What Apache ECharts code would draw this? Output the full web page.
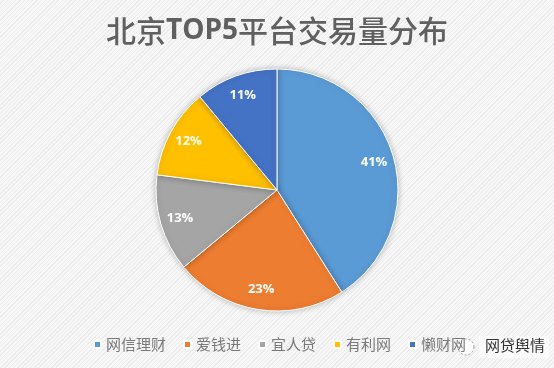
<!DOCTYPE html>
<html>
<head>
<meta charset="utf-8">
<script src="https://cdn.jsdelivr.net/npm/echarts@6/dist/echarts.min.js"></script>
<style>
html,body{margin:0;padding:0;}
body{width:554px;height:368px;background:#f4f4f4;
background-image:repeating-linear-gradient(135deg,#f7f7f7 0px,#f7f7f7 2px,#ececec 2px,#ececec 3px);}
#c{width:554px;height:368px;}
</style>
</head>
<body>
<div id="c"></div>
<script>
var titleParts = ['北京', 'TOP5', '平台交易量分布'];
var categories = ['网信理财', '爱钱进', '宜人贷', '有利网', '懒财网'];
var values = [41, 23, 13, 12, 11];
var colors = ['#5B9BD5', '#ED7D31', '#A5A5A5', '#FFC000', '#4472C4'];

var data = categories.map(function (c, i) { return { name: c, value: values[i] }; });
var chart = echarts.init(document.getElementById('c'));
chart.setOption({
  backgroundColor: 'transparent',
  color: colors,
  title: {
    text: '{a|' + titleParts[0] + '}{b|' + titleParts[1] + '}{a|' + titleParts[2] + '}',
    left: 'center', top: 11,
    textStyle: {
      rich: {
        a: { fontFamily: 'Noto Sans CJK SC', fontSize: 30, fontWeight: 500, color: '#606060' },
        b: { fontFamily: 'Open Sans', fontSize: 28, fontWeight: 'bold', color: '#606060' }
      }
    }
  },
  legend: {
    bottom: 11, left: 88, itemWidth: 7, itemHeight: 7, itemGap: 17, icon: 'rect',
    data: categories,
    textStyle: { fontFamily: 'Noto Sans CJK SC', fontSize: 15, color: '#7a7a7a' }
  },
  graphic: [
    { type: 'circle', shape: { cx: 466, cy: 347, r: 8 }, style: { fill: 'rgba(255,255,255,0.7)', stroke: '#999', lineWidth: 1, lineDash: [2, 2] } },
    { type: 'rect', shape: { x: 479, y: 336, width: 70, height: 22 }, style: { fill: 'rgba(255,255,255,0.6)' } },
    { type: 'text', left: 485, top: 338, style: { text: '网贷舆情', fontFamily: 'Noto Sans CJK SC', fontSize: 15, fill: '#333' } }
  ],
  series: [
    {
      type: 'pie', radius: [0, 121], center: [277, 190], startAngle: 90,
      data: data, silent: true,
      label: { show: false }, labelLine: { show: false },
      itemStyle: { borderColor: '#ffffff', borderWidth: 1, shadowBlur: 6, shadowColor: 'rgba(0,0,0,0.25)' }
    },
    {
      type: 'pie', radius: [0, 196], center: [277, 190], startAngle: 90,
      data: data, silent: true, z: 5,
      itemStyle: { color: 'rgba(0,0,0,0)' },
      label: {
        show: true, position: 'inside', formatter: '{c}%',
        fontFamily: 'Open Sans', fontSize: 13, fontWeight: 'bold', color: '#ffffff'
      },
      labelLine: { show: false }
    }
  ]
});
</script>
</body>
</html>
